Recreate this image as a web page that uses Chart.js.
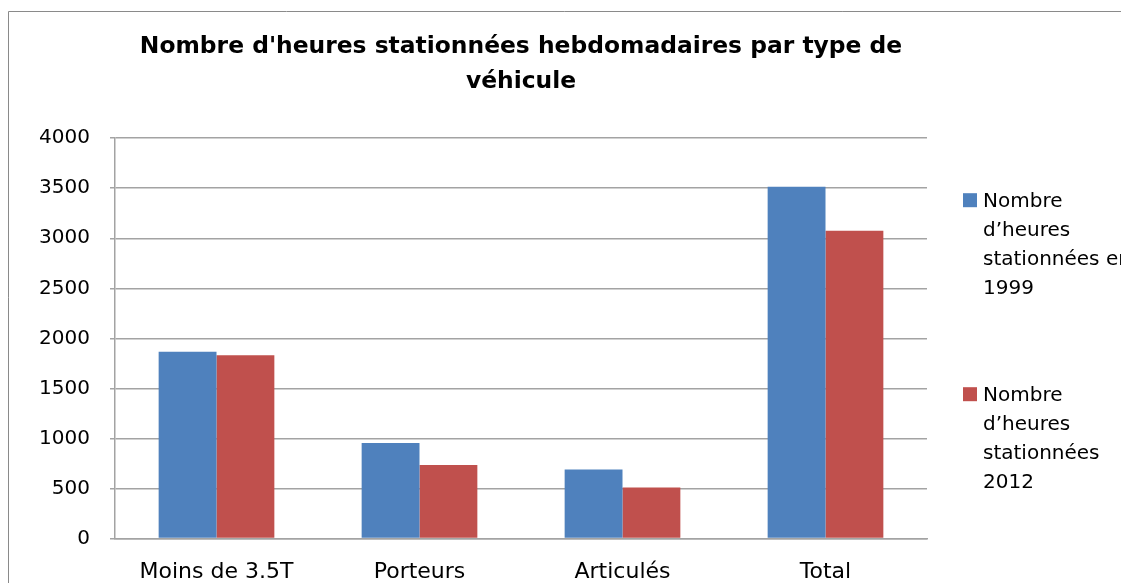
<!DOCTYPE html>
<html>
<head>
<meta charset="utf-8">
<script src="https://cdn.jsdelivr.net/npm/chart.js@4/dist/chart.umd.min.js"></script>
<style>
  html, body { margin: 0; padding: 0; background: #fff; overflow: hidden; }
  #wrap { width: 1121px; height: 583px; }
</style>
</head>
<body>
<div id="wrap"><canvas id="parkingChart" width="1121" height="583"></canvas></div>
<script>
// Heures stationnées par semaine, par type de véhicule
const categories = ['Moins de 3.5T', 'Porteurs', 'Articulés', 'Total'];
const hours1999 = [1865, 955, 690, 3515];
const hours2012 = [1830, 735, 510, 3075];
const yTicks = [0, 500, 1000, 1500, 2000, 2500, 3000, 3500, 4000];

// Legend text, already broken into lines
const legend1999 = ['Nombre', 'd\u2019heures', 'stationnées en', '1999'];
const legend2012 = ['Nombre', 'd\u2019heures', 'stationnées', '2012'];

const BLUE = '#4F81BD';
const RED = '#C0504D';
const GRID = '#a3a3a3';
const FONT = "'DejaVu Sans', sans-serif";

// Frame around the whole chart (only top and left edges are visible)
const framePlugin = {
    id: 'frame',
    beforeDraw(chart) {
        const ctx = chart.ctx;
        ctx.save();
        ctx.strokeStyle = '#8a8a8a';
        ctx.lineWidth = 1;
        ctx.beginPath();
        ctx.moveTo(8.5, chart.height);
        ctx.lineTo(8.5, 11.5);
        ctx.lineTo(chart.width, 11.5);
        ctx.stroke();
        ctx.restore();
    }
};

// Wrapped legend on the right side
const wrappedLegend = {
    id: 'wrappedLegend',
    afterDraw(chart) {
        const ctx = chart.ctx;
        const area = chart.chartArea;
        const boxX = area.right + 36;
        const textX = boxX + 20;
        ctx.save();
        ctx.font = '20px ' + FONT;
        ctx.textBaseline = 'alphabetic';
        ctx.textAlign = 'left';
        chart.data.datasets.forEach((ds, i) => {
            const top = area.top + 55 + i * 194;
            ctx.fillStyle = ds.backgroundColor;
            ctx.fillRect(boxX, top, 14, 14);
            ctx.fillStyle = '#000';
            ds.legendLines.forEach((line, j) => {
                ctx.fillText(line, textX, top + 14 + j * 29);
            });
        });
        ctx.restore();
    }
};

new Chart(document.getElementById('parkingChart'), {
    type: 'bar',
    data: {
        labels: categories,
        datasets: [
            {
                label: legend1999.join(' '),
                legendLines: legend1999,
                data: hours1999,
                backgroundColor: BLUE,
                barPercentage: 1,
                categoryPercentage: 0.57
            },
            {
                label: legend2012.join(' '),
                legendLines: legend2012,
                data: hours2012,
                backgroundColor: RED,
                barPercentage: 1,
                categoryPercentage: 0.57
            }
        ]
    },
    options: {
        responsive: false,
        animation: false,
        devicePixelRatio: 1,
        layout: {
            padding: { left: 0, right: 194, top: 0, bottom: 0 }
        },
        plugins: {
            legend: { display: false },
            tooltip: { enabled: false },
            title: {
                display: true,
                fullSize: false,
                text: ['Nombre d\'heures stationnées hebdomadaires par type de', 'véhicule'],
                color: '#000',
                font: { family: FONT, size: 23.4, weight: 'bold', lineHeight: 1.5 },
                padding: { top: 29, bottom: 39 }
            }
        },
        scales: {
            x: {
                afterFit(scale) { scale.height = 44.5; },
                grid: { display: false, drawTicks: false },
                border: { display: true, color: GRID, width: 1.5 },
                ticks: {
                    color: '#000',
                    padding: 21,
                    font: { family: FONT, size: 22 }
                }
            },
            y: {
                min: 0,
                max: 4000,
                afterFit(scale) { scale.width = 115; },
                afterBuildTicks(scale) {
                    scale.ticks = yTicks.map(v => ({ value: v }));
                },
                grid: { color: GRID, lineWidth: 1.5, tickLength: 5 },
                border: { display: true, color: GRID, width: 1.5 },
                ticks: {
                    color: '#000',
                    padding: 20,
                    font: { family: FONT, size: 20 },
                    callback: v => String(v)
                }
            }
        }
    },
    plugins: [framePlugin, wrappedLegend]
});
</script>
</body>
</html>
